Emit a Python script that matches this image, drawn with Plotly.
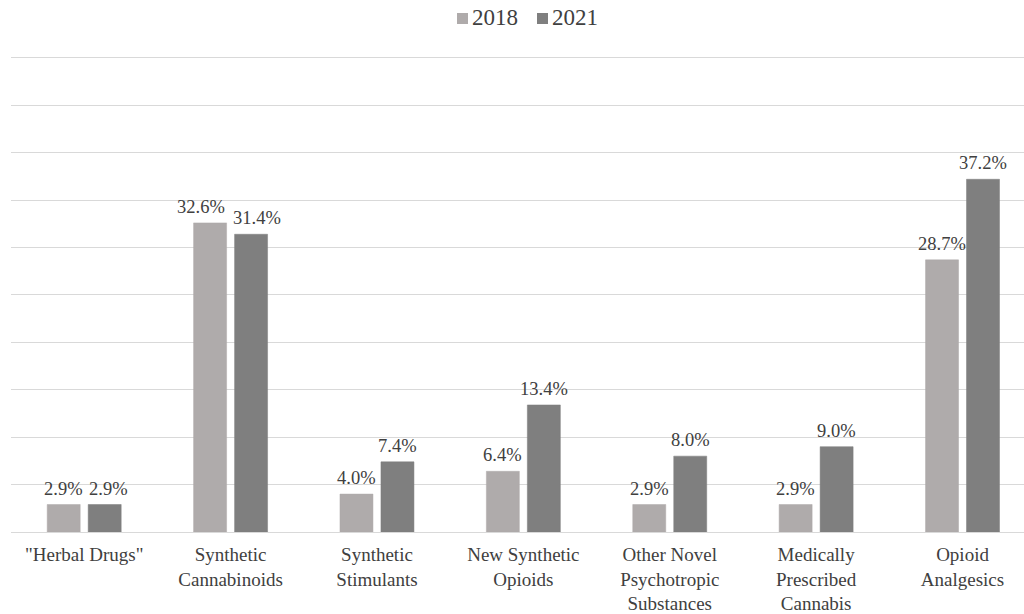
import plotly.graph_objects as go

categories = [
    '"Herbal Drugs"',
    "Synthetic<br>Cannabinoids",
    "Synthetic<br>Stimulants",
    "New Synthetic<br>Opioids",
    "Other Novel<br>Psychotropic<br>Substances",
    "Medically<br>Prescribed<br>Cannabis",
    "Opioid<br>Analgesics",
]
series_names = ["2018", "2021"]
values_2018 = [2.9, 32.6, 4.0, 6.4, 2.9, 2.9, 28.7]
values_2021 = [2.9, 31.4, 7.4, 13.4, 8.0, 9.0, 37.2]

# small horizontal nudges (px) that keep neighbouring value labels apart
nudge_2018 = [0, -9, 0, 0, 0, 0, 0]
nudge_2021 = [4, 6, 0, 0, 0, 0, 0]

FONT = "Liberation Serif, Tinos, Noto Serif, Nimbus Roman, DejaVu Serif"
TEXT = "#404040"
COLORS = ["#afabab", "#7f7f7f"]
BAR_OFFSET = 20.5  # px from group centre to each bar centre

W, H = 1024, 614
M = dict(l=11, r=0, t=56, b=82)
PW, PH = W - M["l"] - M["r"], H - M["t"] - M["b"]


def px_x(px):
    return (px - M["l"]) / PW


def px_y(py):
    return (H - M["b"] - py) / PH


fig = go.Figure()
for name, vals, color in zip(series_names, [values_2018, values_2021], COLORS):
    fig.add_trace(go.Bar(
        name=name,
        x=categories,
        y=vals,
        marker=dict(color=color, line=dict(color=color, width=0.5)),
    ))

for vals, nudges, side in [(values_2018, nudge_2018, -1), (values_2021, nudge_2021, 1)]:
    for cat, v, n in zip(categories, vals, nudges):
        fig.add_annotation(
            x=cat, y=v, text=f"{v:.1f}%",
            showarrow=False, yanchor="bottom", xanchor="center",
            xshift=side * BAR_OFFSET + n, yshift=4,
            font=dict(family=FONT, size=18.5, color=TEXT),
        )

# legend keys across the top: square swatch followed by the series name
for name, color, left in zip(series_names, COLORS, [457, 537]):
    fig.add_shape(
        type="rect", xref="paper", yref="paper",
        x0=px_x(left), x1=px_x(left + 11),
        y0=px_y(24), y1=px_y(13),
        fillcolor=color, line=dict(width=0),
    )
    fig.add_annotation(
        xref="paper", yref="paper",
        x=px_x(left + 13), y=px_y(17.5),
        xanchor="left", yanchor="middle",
        text=name, showarrow=False,
        font=dict(family=FONT, size=23, color=TEXT),
    )

fig.update_layout(
    width=W,
    height=H,
    margin=dict(M, autoexpand=False),
    paper_bgcolor="white",
    plot_bgcolor="white",
    barmode="group",
    bargap=0.44,
    bargroupgap=0.195,
    font=dict(family=FONT, size=19, color=TEXT),
    showlegend=False,
    xaxis=dict(
        range=[-0.5, 6.42],
        automargin=False,
        showgrid=False,
        ticks="outside",
        ticklen=5,
        tickcolor="rgba(0,0,0,0)",
        tickfont=dict(family=FONT, size=19, color=TEXT),
        showline=False,
    ),
    yaxis=dict(
        range=[0, 50.2],
        automargin=False,
        dtick=5,
        showgrid=True,
        gridcolor="#d9d9d9",
        gridwidth=1,
        zeroline=True,
        zerolinecolor="#d9d9d9",
        zerolinewidth=1,
        showticklabels=False,
        ticks="",
    ),
)

fig.write_html("out.html")
